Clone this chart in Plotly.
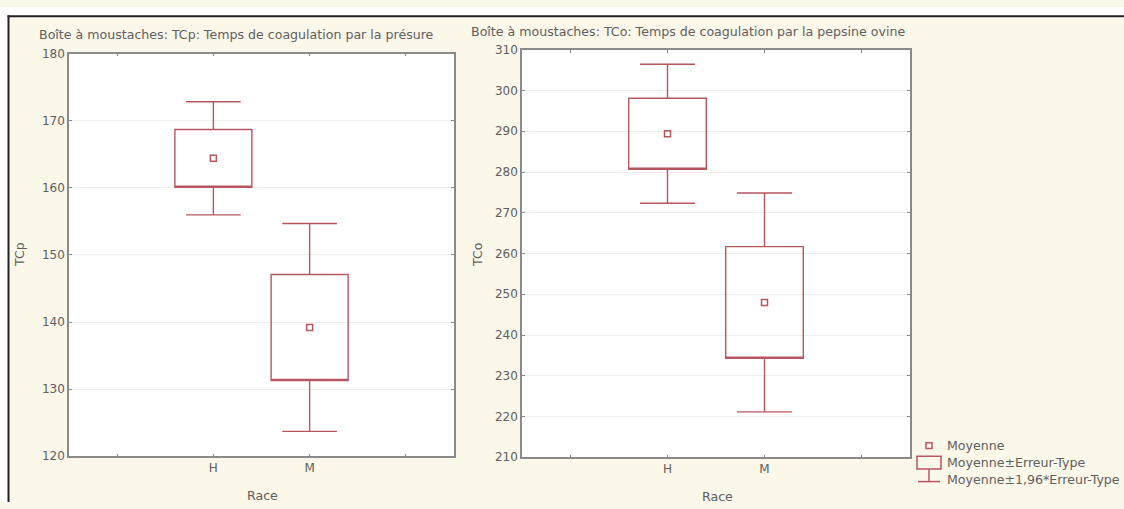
import plotly.graph_objects as go

# Breed categories and summary statistics (mean and standard error)
races = ["H", "M"]
tcp_mean = [164.4, 139.2]
tcp_se = [4.3, 7.9]
tco_mean = [289.4, 248.0]
tco_se = [8.7, 13.7]

tcp_ticks = [120, 130, 140, 150, 160, 170, 180]
tco_ticks = [210, 220, 230, 240, 250, 260, 270, 280, 290, 300, 310]

W, H = 1124, 509
RED = "rgb(184,86,96)"
TXT = "#606060"
CREAM = "#fbf7e9"
FONT = "DejaVu Sans, Verdana, sans-serif"


def px(x):
    return x / W


def py(y):
    return 1 - y / H


pos = [i + 1 for i in range(len(races))]
xticks = [0] + pos + [len(races) + 1]
xtext = [""] + races + [""]

fig = go.Figure()


def add_panel(means, ses, xa, ya):
    q1 = [m - s for m, s in zip(means, ses)]
    q3 = [m + s for m, s in zip(means, ses)]
    lo = [m - 1.96 * s for m, s in zip(means, ses)]
    hi = [m + 1.96 * s for m, s in zip(means, ses)]
    fig.add_trace(go.Box(
        x=pos, q1=q1, median=q1, q3=q3, lowerfence=lo, upperfence=hi,
        width=0.8, whiskerwidth=0.71, boxpoints=False,
        line=dict(color=RED, width=1.4), fillcolor="rgba(0,0,0,0)",
        xaxis=xa, yaxis=ya, showlegend=False, hoverinfo="skip",
    ))
    fig.add_trace(go.Scatter(
        x=pos, y=means, mode="markers",
        marker=dict(symbol="square-open", size=6, color=RED, line=dict(width=1.5)),
        xaxis=xa, yaxis=ya, showlegend=False, hoverinfo="skip",
    ))


add_panel(tcp_mean, tcp_se, "x", "y")
add_panel(tco_mean, tco_se, "x2", "y2")

axis_common = dict(
    showline=True, linecolor="#8a8a8a", linewidth=1.5, mirror="ticks",
    ticks="inside", ticklen=3, tickcolor="#8a8a8a",
    tickfont=dict(family=FONT, size=12, color=TXT),
    zeroline=False,
)

fig.update_layout(
    width=W, height=H,
    margin=dict(l=0, r=0, t=0, b=0),
    paper_bgcolor=CREAM,
    plot_bgcolor="white",
    showlegend=False,
    xaxis=dict(domain=[px(69), px(454)], range=[-0.5, len(races) + 1.5],
               tickvals=xticks, ticktext=xtext, showgrid=False, anchor="y",
               **axis_common),
    yaxis=dict(domain=[py(462), py(48)], range=[tcp_ticks[0], tcp_ticks[-1]],
               tickvals=tcp_ticks, showgrid=True, gridcolor="#eeeeee", gridwidth=1,
               anchor="x", **axis_common),
    xaxis2=dict(domain=[px(522), px(910)], range=[-0.5, len(races) + 1.5],
                tickvals=xticks, ticktext=xtext, showgrid=False, anchor="y2",
                **axis_common),
    yaxis2=dict(domain=[py(463), py(44)], range=[tco_ticks[0], tco_ticks[-1]],
                tickvals=tco_ticks, showgrid=True, gridcolor="#eeeeee", gridwidth=1,
                anchor="x2", **axis_common),
)

shapes = [
    # white plotting areas under the gridlines
    dict(type="rect", xref="x domain", yref="y domain", x0=0, x1=1, y0=0, y1=1,
         fillcolor="white", line=dict(width=0), layer="below"),
    dict(type="rect", xref="x2 domain", yref="y2 domain", x0=0, x1=1, y0=0, y1=1,
         fillcolor="white", line=dict(width=0), layer="below"),
    # white margin above and left of the framed page
    dict(type="rect", xref="paper", yref="paper", x0=0, x1=1, y0=py(9), y1=1,
         fillcolor="white", line=dict(width=0)),
    dict(type="rect", xref="paper", yref="paper", x0=0, x1=px(8), y0=0, y1=1,
         fillcolor="white", line=dict(width=0)),
    # dark frame on top and left
    dict(type="rect", xref="paper", yref="paper", x0=px(7.5), x1=1, y0=py(10.5), y1=py(8.5),
         fillcolor="#222222", line=dict(width=0)),
    dict(type="rect", xref="paper", yref="paper", x0=px(7.5), x1=px(9.5), y0=0, y1=py(8.5),
         fillcolor="#222222", line=dict(width=0)),
    # legend symbols
    dict(type="rect", xref="paper", yref="paper", x0=px(926), x1=px(932), y0=py(454), y1=py(448),
         line=dict(color=RED, width=1.5)),
    dict(type="rect", xref="paper", yref="paper", x0=px(917), x1=px(941), y0=py(475), y1=py(462),
         line=dict(color=RED, width=1.5)),
    dict(type="line", xref="paper", yref="paper", x0=px(929), x1=px(929), y0=py(488), y1=py(475),
         line=dict(color=RED, width=1.5)),
    dict(type="line", xref="paper", yref="paper", x0=px(918), x1=px(940), y0=py(488), y1=py(488),
         line=dict(color=RED, width=1.5)),
]
fig.update_layout(shapes=shapes)

f = dict(family=FONT, size=12.6, color=TXT)
ann = [
    dict(text="Boîte à moustaches: TCp: Temps de coagulation par la présure",
         x=px(37), y=py(28), xanchor="left", yanchor="middle"),
    dict(text="Boîte à moustaches: TCo: Temps de coagulation par la pepsine ovine",
         x=px(469), y=py(25), xanchor="left", yanchor="middle"),
    dict(text="TCp", x=px(20), y=py(255), xanchor="center", yanchor="middle", textangle=-90),
    dict(text="TCo", x=px(478), y=py(255), xanchor="center", yanchor="middle", textangle=-90),
    dict(text="Race", x=px(262), y=py(502), xanchor="center", yanchor="middle"),
    dict(text="Race", x=px(717), y=py(503), xanchor="center", yanchor="middle"),
    dict(text="Moyenne", x=px(945), y=py(451), xanchor="left", yanchor="middle"),
    dict(text="Moyenne±Erreur-Type", x=px(945), y=py(468), xanchor="left", yanchor="middle"),
    dict(text="Moyenne±1,96*Erreur-Type", x=px(945), y=py(486), xanchor="left", yanchor="middle"),
]
for a in ann:
    fig.add_annotation(xref="paper", yref="paper", showarrow=False, font=f, **a)

# page body without default margins so the figure fills the window exactly
fig.write_html(
    "out.html",
    post_script="document.body.style.margin='0';document.body.style.padding='0';",
)
